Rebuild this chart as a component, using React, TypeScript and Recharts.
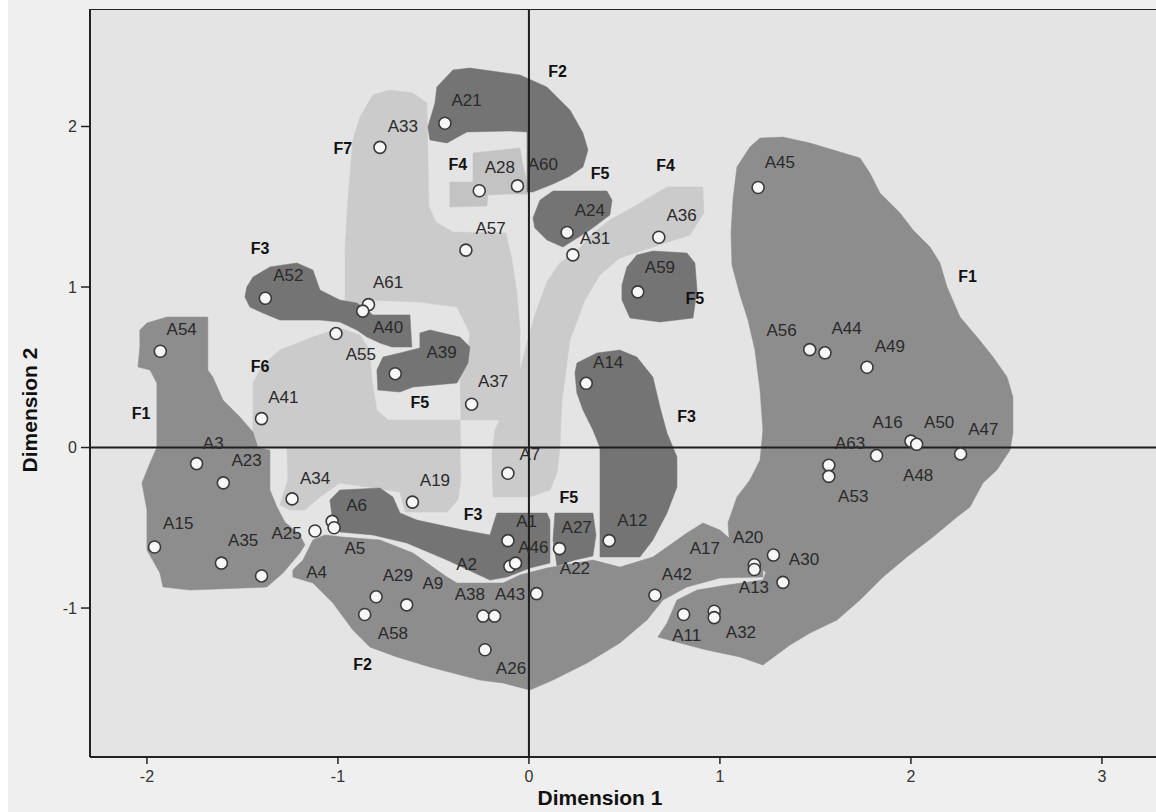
import React from 'react';
import { ScatterChart, Scatter, XAxis, YAxis, CartesianGrid } from 'recharts';

type P = [number, number];

const X_DOMAIN: [number, number] = [-2.298, 3.304];
const Y_DOMAIN: [number, number] = [-1.928, 2.732];
const X_TICKS = [-2, -1, 0, 1, 2, 3];
const Y_TICKS = [-1, 0, 1, 2];

const OBJECT_POINTS = [
  { id: 'A21', x: -0.44, y: 2.02 }, { id: 'A33', x: -0.78, y: 1.87 }, { id: 'A28', x: -0.26, y: 1.6 },
  { id: 'A60', x: -0.06, y: 1.63 }, { id: 'A57', x: -0.33, y: 1.23 }, { id: 'A24', x: 0.2, y: 1.34 },
  { id: 'A31', x: 0.23, y: 1.2 }, { id: 'A36', x: 0.68, y: 1.31 }, { id: 'A45', x: 1.2, y: 1.62 },
  { id: 'A59', x: 0.57, y: 0.97 }, { id: 'A52', x: -1.38, y: 0.93 }, { id: 'A61', x: -0.84, y: 0.89 },
  { id: 'A40', x: -0.87, y: 0.85 }, { id: 'A55', x: -1.01, y: 0.71 }, { id: 'A54', x: -1.93, y: 0.6 },
  { id: 'A39', x: -0.7, y: 0.46 }, { id: 'A37', x: -0.3, y: 0.27 }, { id: 'A41', x: -1.4, y: 0.18 },
  { id: 'A14', x: 0.3, y: 0.4 }, { id: 'A56', x: 1.47, y: 0.61 }, { id: 'A44', x: 1.55, y: 0.59 },
  { id: 'A49', x: 1.77, y: 0.5 }, { id: 'A16', x: 2.0, y: 0.04 }, { id: 'A50', x: 2.03, y: 0.02 },
  { id: 'A47', x: 2.26, y: -0.04 }, { id: 'A48', x: 1.82, y: -0.05 }, { id: 'A63', x: 1.57, y: -0.11 },
  { id: 'A53', x: 1.57, y: -0.18 }, { id: 'A3', x: -1.74, y: -0.1 }, { id: 'A23', x: -1.6, y: -0.22 },
  { id: 'A34', x: -1.24, y: -0.32 }, { id: 'A19', x: -0.61, y: -0.34 }, { id: 'A7', x: -0.11, y: -0.16 },
  { id: 'A15', x: -1.96, y: -0.62 }, { id: 'A35', x: -1.61, y: -0.72 }, { id: 'A4', x: -1.4, y: -0.8 },
  { id: 'A25', x: -1.12, y: -0.52 }, { id: 'A6', x: -1.03, y: -0.46 }, { id: 'A5', x: -1.02, y: -0.5 },
  { id: 'A29', x: -0.8, y: -0.93 }, { id: 'A58', x: -0.86, y: -1.04 }, { id: 'A9', x: -0.64, y: -0.98 },
  { id: 'A38', x: -0.24, y: -1.05 }, { id: 'A43', x: -0.18, y: -1.05 }, { id: 'A26', x: -0.23, y: -1.26 },
  { id: 'A2', x: -0.1, y: -0.74 }, { id: 'A46', x: -0.07, y: -0.72 }, { id: 'A1', x: -0.11, y: -0.58 },
  { id: 'A27', x: 0.16, y: -0.63 }, { id: 'A22', x: 0.04, y: -0.91 }, { id: 'A12', x: 0.42, y: -0.58 },
  { id: 'A42', x: 0.66, y: -0.92 }, { id: 'A11', x: 0.81, y: -1.04 }, { id: 'A32', x: 0.97, y: -1.02 },
  { id: '', x: 0.97, y: -1.06 }, { id: 'A20', x: 1.18, y: -0.73 }, { id: 'A17', x: 1.18, y: -0.76 },
  { id: 'A30', x: 1.28, y: -0.67 }, { id: 'A13', x: 1.33, y: -0.84 },
];

const POINT_LABELS = [
  { text: 'A21', x: -0.326, y: 2.165 }, { text: 'A33', x: -0.66, y: 2.003 }, { text: 'A28', x: -0.152, y: 1.75 },
  { text: 'A60', x: 0.073, y: 1.766 }, { text: 'A57', x: -0.201, y: 1.366 }, { text: 'A24', x: 0.319, y: 1.48 },
  { text: 'A31', x: 0.346, y: 1.307 }, { text: 'A36', x: 0.799, y: 1.449 }, { text: 'A45', x: 1.314, y: 1.776 },
  { text: 'A59', x: 0.686, y: 1.125 }, { text: 'A52', x: -1.26, y: 1.075 }, { text: 'A61', x: -0.737, y: 1.029 },
  { text: 'A40', x: -0.737, y: 0.753 }, { text: 'A55', x: -0.88, y: 0.581 }, { text: 'A54', x: -1.818, y: 0.736 },
  { text: 'A39', x: -0.457, y: 0.593 }, { text: 'A37', x: -0.187, y: 0.416 }, { text: 'A41', x: -1.286, y: 0.317 },
  { text: 'A14', x: 0.415, y: 0.535 }, { text: 'A56', x: 1.323, y: 0.732 }, { text: 'A44', x: 1.663, y: 0.743 },
  { text: 'A49', x: 1.89, y: 0.632 }, { text: 'A16', x: 1.878, y: 0.161 }, { text: 'A50', x: 2.148, y: 0.161 },
  { text: 'A47', x: 2.379, y: 0.113 }, { text: 'A48', x: 2.038, y: -0.171 }, { text: 'A63', x: 1.681, y: 0.026 },
  { text: 'A53', x: 1.698, y: -0.302 }, { text: 'A3', x: -1.653, y: 0.03 }, { text: 'A23', x: -1.478, y: -0.078 },
  { text: 'A34', x: -1.12, y: -0.192 }, { text: 'A19', x: -0.492, y: -0.202 }, { text: 'A7', x: 0.005, y: -0.04 },
  { text: 'A15', x: -1.836, y: -0.472 }, { text: 'A35', x: -1.496, y: -0.576 }, { text: 'A25', x: -1.269, y: -0.533 },
  { text: 'A6', x: -0.902, y: -0.358 }, { text: 'A5', x: -0.911, y: -0.626 }, { text: 'A4', x: -1.112, y: -0.776 },
  { text: 'A29', x: -0.686, y: -0.794 }, { text: 'A9', x: -0.503, y: -0.842 }, { text: 'A2', x: -0.326, y: -0.729 },
  { text: 'A38', x: -0.309, y: -0.913 }, { text: 'A43', x: -0.099, y: -0.913 }, { text: 'A58', x: -0.712, y: -1.156 },
  { text: 'A26', x: -0.094, y: -1.374 }, { text: 'A1', x: -0.012, y: -0.458 }, { text: 'A46', x: 0.023, y: -0.618 },
  { text: 'A27', x: 0.25, y: -0.493 }, { text: 'A22', x: 0.241, y: -0.753 }, { text: 'A12', x: 0.541, y: -0.452 },
  { text: 'A17', x: 0.921, y: -0.626 }, { text: 'A20', x: 1.148, y: -0.556 }, { text: 'A30', x: 1.44, y: -0.697 },
  { text: 'A13', x: 1.178, y: -0.872 }, { text: 'A42', x: 0.775, y: -0.788 }, { text: 'A11', x: 0.826, y: -1.168 },
  { text: 'A32', x: 1.11, y: -1.148 },
];

const REGION_LABELS = [
  { text: 'F2', x: 0.15, y: 2.346 }, { text: 'F7', x: -0.974, y: 1.866 }, { text: 'F4', x: -0.372, y: 1.766 },
  { text: 'F5', x: 0.372, y: 1.71 }, { text: 'F4', x: 0.716, y: 1.756 }, { text: 'F3', x: -1.408, y: 1.243 },
  { text: 'F1', x: 2.297, y: 1.064 }, { text: 'F5', x: 0.869, y: 0.931 }, { text: 'F6', x: -1.408, y: 0.508 },
  { text: 'F5', x: -0.571, y: 0.279 }, { text: 'F1', x: -2.031, y: 0.213 }, { text: 'F3', x: 0.826, y: 0.192 },
  { text: 'F5', x: 0.209, y: -0.31 }, { text: 'F3', x: -0.292, y: -0.414 }, { text: 'F2', x: -0.871, y: -1.349 },
];

// Region outlines (data coordinates)
const LIGHT_F7: P[] = [
  [-0.937, 1.698], [-0.922, 1.916], [-0.885, 2.059], [-0.817, 2.196], [-0.728, 2.227], [-0.607, 2.209],
  [-0.534, 2.146], [-0.524, 1.505], [-0.487, 1.405], [-0.398, 1.343], [-0.12, 1.336], [-0.089, 1.168],
  [-0.063, 0.963], [-0.047, 0.732], [-0.047, 0.296], [-0.073, 0.171], [-0.356, 0.171], [-0.361, 0.439],
  [-0.325, 0.545], [-0.309, 0.713], [-0.377, 0.875], [-0.571, 0.906], [-0.859, 0.919], [-0.911, 0.857],
  [-0.963, 0.919], [-0.963, 1.23], [-0.948, 1.542],
];
const LIGHT_F6: P[] = [
  [-1.445, 0], [-1.445, 0.402], [-1.398, 0.508], [-1.304, 0.607], [-1.131, 0.688], [-0.99, 0.745],
  [-0.885, 0.701], [-0.833, 0.607], [-0.822, 0.421], [-0.796, 0.234], [-0.738, 0.171], [-0.361, 0.171],
  [-0.356, 0],
];
const LIGHT_BAND: P[] = [
  [-1.267, 0], [-0.361, 0], [-0.356, -0.202], [-0.372, -0.327], [-0.429, -0.402], [-0.649, -0.402],
  [-0.675, -0.277], [-0.99, -0.221], [-1.094, -0.308], [-1.173, -0.389], [-1.251, -0.389], [-1.304, -0.358],
  [-1.262, -0.202],
];
const LIGHT_ARM: P[] = [
  [0.723, 1.623], [0.911, 1.623], [0.916, 1.461], [0.843, 1.324], [0.634, 1.243], [0.476, 1.181],
  [0.372, 1.075], [0.293, 0.919], [0.215, 0.67], [0.173, 0.296], [0.162, 0], [0.147, -0.159],
  [0.11, -0.265], [0.005, -0.308], [-0.188, -0.308], [-0.194, -0.034], [-0.178, 0.109], [-0.063, 0.402],
  [-0.01, 0.651], [0.031, 0.826], [0.094, 1.031], [0.162, 1.15], [0.257, 1.23], [0.335, 1.336],
  [0.424, 1.417], [0.545, 1.498],
];
const LIGHT_F4: P[] = [
  [-0.414, 1.654], [-0.293, 1.654], [-0.293, 1.835], [-0.047, 1.866], [-0.037, 1.791], [-0.01, 1.648],
  [-0.005, 1.579], [-0.115, 1.579], [-0.215, 1.573], [-0.22, 1.505], [-0.414, 1.498],
];
const MID_F1_RIGHT: P[] = [
  [1.157, 1.872], [1.21, 1.928], [1.33, 1.934], [1.471, 1.897], [1.733, 1.804], [1.785, 1.71],
  [1.838, 1.586], [1.943, 1.461], [2.011, 1.355], [2.1, 1.249], [2.152, 1.15], [2.189, 1.0],
  [2.257, 0.813], [2.346, 0.688], [2.43, 0.564], [2.503, 0.439], [2.534, 0.315], [2.534, 0.09],
  [2.519, -0.016], [2.45, -0.14], [2.377, -0.221], [2.309, -0.371], [2.241, -0.433], [2.115, -0.558],
  [1.979, -0.682], [1.854, -0.807], [1.733, -0.95], [1.613, -1.075], [1.471, -1.156], [1.367, -1.23],
  [1.225, -1.355], [1.105, -1.305], [0.932, -1.262], [0.791, -1.218], [0.675, -1.181], [0.723, -1.093],
  [0.775, -0.95], [0.88, -0.888], [1.037, -0.857], [1.225, -0.825], [1.241, -0.776], [1.131, -0.701],
  [1.052, -0.626], [1.042, -0.47], [1.089, -0.308], [1.157, -0.202], [1.21, -0.078], [1.225, 0.109],
  [1.21, 0.358], [1.183, 0.607], [1.147, 0.794], [1.105, 0.95], [1.063, 1.137], [1.058, 1.336],
  [1.068, 1.542], [1.089, 1.748],
];
const MID_F2_BOTTOM: P[] = [
  [-1.236, -0.807], [-1.236, -0.763], [-1.183, -0.701], [-1.131, -0.576], [-1.068, -0.545], [-0.974, -0.558],
  [-0.78, -0.576], [-0.607, -0.657], [-0.429, -0.807], [-0.377, -0.844], [-0.136, -0.844], [-0.047, -0.794],
  [0.094, -0.751], [0.335, -0.701], [0.476, -0.745], [0.649, -0.682], [0.827, -0.533], [0.911, -0.47],
  [1.0, -0.514], [1.12, -0.639], [1.225, -0.745], [1.225, -0.807], [1.0, -0.813], [0.827, -0.869],
  [0.702, -0.95], [0.618, -1.075], [0.476, -1.218], [0.304, -1.343], [0.126, -1.449], [0.005, -1.511],
  [-0.136, -1.467], [-0.257, -1.449], [-0.518, -1.368], [-0.691, -1.305], [-0.833, -1.243], [-0.922, -1.137],
  [-1.026, -0.969], [-1.131, -0.844],
];
const MID_F1_LEFT: P[] = [
  [-2.037, 0.732], [-2.0, 0.776], [-1.895, 0.813], [-1.681, 0.813], [-1.681, 0.483], [-1.655, 0.439],
  [-1.602, 0.296], [-1.513, 0.19], [-1.445, 0.097], [-1.419, 0], [-1.356, -0.016], [-1.356, -0.265],
  [-1.319, -0.371], [-1.278, -0.464], [-1.199, -0.545], [-1.173, -0.607], [-1.199, -0.657], [-1.288, -0.782],
  [-1.372, -0.869], [-1.775, -0.888], [-1.916, -0.869], [-1.932, -0.782], [-2.0, -0.639], [-2.0, -0.389],
  [-2.026, -0.221], [-1.984, -0.097], [-1.948, 0], [-1.948, 0.402], [-1.984, 0.483], [-2.047, 0.502],
  [-2.037, 0.626],
];
const DARK_F2_TOP: P[] = [
  [-0.482, 2.246], [-0.398, 2.352], [-0.309, 2.364], [-0.047, 2.321], [0.094, 2.246], [0.215, 2.103],
  [0.283, 1.959], [0.309, 1.853], [0.283, 1.748], [0.215, 1.691], [0.126, 1.642], [0.021, 1.592],
  [-0.01, 1.592], [-0.01, 1.966], [-0.099, 1.972], [-0.325, 1.966], [-0.429, 1.897], [-0.518, 1.916],
  [-0.529, 1.997], [-0.492, 2.146],
];
const DARK_F5_A24: P[] = [
  [0.021, 1.43], [0.058, 1.542], [0.126, 1.598], [0.408, 1.598], [0.435, 1.542], [0.424, 1.449],
  [0.319, 1.355], [0.178, 1.249], [0.094, 1.293], [0.031, 1.368],
];
const DARK_F5_A59: P[] = [
  [0.487, 1.012], [0.513, 1.125], [0.565, 1.199], [0.649, 1.224], [0.827, 1.212], [0.869, 1.15],
  [0.88, 0.981], [0.859, 0.807], [0.686, 0.782], [0.529, 0.807], [0.487, 0.919],
];
const DARK_F5_A39: P[] = [
  [-0.571, 0.713], [-0.518, 0.732], [-0.361, 0.688], [-0.309, 0.626], [-0.319, 0.526], [-0.377, 0.402],
  [-0.607, 0.377], [-0.675, 0.346], [-0.791, 0.358], [-0.796, 0.483], [-0.764, 0.564], [-0.675, 0.589],
  [-0.571, 0.62],
];
const DARK_F3_A52: P[] = [
  [-1.477, 1.0], [-1.445, 1.062], [-1.356, 1.125], [-1.215, 1.15], [-1.131, 1.106], [-1.094, 0.981],
  [-0.99, 0.919], [-0.901, 0.9], [-0.848, 0.857], [-0.817, 0.826], [-0.623, 0.826], [-0.613, 0.626],
  [-0.717, 0.626], [-0.78, 0.651], [-0.848, 0.688], [-0.901, 0.732], [-0.99, 0.782], [-1.094, 0.794],
  [-1.304, 0.794], [-1.393, 0.838], [-1.461, 0.875], [-1.487, 0.938],
];
const DARK_F3_A14: P[] = [
  [0.251, 0.526], [0.356, 0.589], [0.476, 0.607], [0.565, 0.564], [0.649, 0.439], [0.686, 0.252],
  [0.723, 0.09], [0.775, -0.059], [0.775, -0.246], [0.723, -0.408], [0.649, -0.576], [0.581, -0.682],
  [0.372, -0.682], [0.372, 0], [0.335, 0.109], [0.283, 0.234], [0.251, 0.34], [0.241, 0.464],
];
const DARK_F3_A2: P[] = [
  [-1.042, -0.327], [-0.99, -0.265], [-0.78, -0.252], [-0.712, -0.308], [-0.675, -0.408], [-0.586, -0.452],
  [-0.346, -0.514], [-0.204, -0.545], [-0.168, -0.408], [0.094, -0.408], [0.11, -0.452], [0.11, -0.72],
  [0.005, -0.751], [-0.115, -0.807], [-0.204, -0.826], [-0.429, -0.701], [-0.639, -0.595], [-0.817, -0.545],
  [-0.99, -0.526], [-1.026, -0.47],
];
const DARK_F5_A27: P[] = [
  [0.136, -0.408], [0.335, -0.408], [0.351, -0.545], [0.335, -0.676], [0.241, -0.701], [0.147, -0.738],
  [0.126, -0.576],
];

const LIGHT = '#cbcbcb';
const LIGHT2 = '#c3c3c3';
const MID = '#8d8d8d';
const DARK = '#747474';
const FONT = '"Liberation Sans", Arial, sans-serif';

const REGIONS: { key: string; pts: P[]; color: string }[] = [
  { key: 'f7', pts: LIGHT_F7, color: LIGHT },
  { key: 'f6', pts: LIGHT_F6, color: LIGHT },
  { key: 'band', pts: LIGHT_BAND, color: LIGHT },
  { key: 'arm', pts: LIGHT_ARM, color: LIGHT },
  { key: 'f4', pts: LIGHT_F4, color: LIGHT2 },
  { key: 'f1r', pts: MID_F1_RIGHT, color: MID },
  { key: 'f2b', pts: MID_F2_BOTTOM, color: MID },
  { key: 'f1l', pts: MID_F1_LEFT, color: MID },
  { key: 'f2t', pts: DARK_F2_TOP, color: DARK },
  { key: 'a24', pts: DARK_F5_A24, color: DARK },
  { key: 'a59', pts: DARK_F5_A59, color: DARK },
  { key: 'a39', pts: DARK_F5_A39, color: DARK },
  { key: 'a52', pts: DARK_F3_A52, color: DARK },
  { key: 'a14', pts: DARK_F3_A14, color: DARK },
  { key: 'a2', pts: DARK_F3_A2, color: DARK },
  { key: 'a27', pts: DARK_F5_A27, color: DARK },
];

const toXY = (pts: P[]) => pts.map(([x, y]) => ({ x, y }));
const noShape = () => <g />;

const circleShape = (p: any) => (
  <circle cx={p.cx} cy={p.cy} r={6} fill="#f7f7f7" stroke="#3a3a3a" strokeWidth={1.6} />
);
const textShape = (p: any) => (
  <text x={p.cx} y={p.cy} dy="0.35em" textAnchor="middle" fontSize={17} fill="#2a2a2a" fontFamily={FONT}>
    {p.payload.text}
  </text>
);
const regionTextShape = (p: any) => (
  <text x={p.cx} y={p.cy} dy="0.35em" textAnchor="middle" fontSize={16} fontWeight={700} fill="#111" fontFamily={FONT}>
    {p.payload.text}
  </text>
);

const xTitle = (props: any) => {
  const vb = props.viewBox || { x: 82, y: 757, width: 1070, height: 55 };
  return (
    <text x={vb.x + vb.width / 2 - 25} y={vb.y + vb.height - 7} textAnchor="middle" fontSize={21} fontWeight={700} fill="#111" fontFamily={FONT}>
      Dimension 1
    </text>
  );
};
const yTitle = (props: any) => {
  const vb = props.viewBox || { x: 0, y: 9, width: 82, height: 748 };
  const cx = vb.x + 22;
  const cy = vb.y + vb.height / 2 + 27;
  return (
    <text x={cx} y={cy} dy="0.35em" transform={`rotate(-90, ${cx}, ${cy})`} textAnchor="middle" fontSize={21} fontWeight={700} fill="#111" fontFamily={FONT}>
      Dimension 2
    </text>
  );
};

export default function App() {
  const vLine = [{ x: 0, y: Y_DOMAIN[0] }, { x: 0, y: Y_DOMAIN[1] }];
  const hLine = [{ x: X_DOMAIN[0], y: 0 }, { x: X_DOMAIN[1], y: 0 }];
  const topLine = [{ x: X_DOMAIN[0], y: Y_DOMAIN[1] }, { x: X_DOMAIN[1], y: Y_DOMAIN[1] }];
  return (
    <div style={{ position: 'fixed', left: 8, top: 0, width: 1148, height: 812, overflow: 'hidden', background: '#efefef' }}>
      <ScatterChart width={1160} height={812} margin={{ top: 9, right: 8, bottom: 0, left: 0 }}>
        <CartesianGrid fill="#e4e4e4" horizontal={false} vertical={false} />
        <XAxis
          type="number"
          dataKey="x"
          domain={X_DOMAIN}
          ticks={X_TICKS}
          allowDataOverflow
          height={55}
          tickSize={7}
          tickMargin={7}
          axisLine={{ stroke: '#222', strokeWidth: 2 }}
          tickLine={{ stroke: '#222', strokeWidth: 1.5 }}
          tick={{ fontSize: 16, fill: '#333', fontFamily: FONT }}
          label={xTitle}
        />
        <YAxis
          type="number"
          dataKey="y"
          domain={Y_DOMAIN}
          ticks={Y_TICKS}
          allowDataOverflow
          width={82}
          tickSize={9}
          tickMargin={4}
          axisLine={{ stroke: '#222', strokeWidth: 2 }}
          tickLine={{ stroke: '#222', strokeWidth: 1.5 }}
          tick={{ fontSize: 16, fill: '#333', fontFamily: FONT }}
          label={yTitle}
        />
        {REGIONS.map((r) => (
          <Scatter
            key={r.key}
            data={toXY(r.pts)}
            fill={r.color}
            line={{ fill: r.color, stroke: r.color, strokeWidth: 0.5 }}
            lineJointType="linearClosed"
            shape={noShape}
            isAnimationActive={false}
          />
        ))}
        <Scatter data={vLine} line={{ stroke: '#1e1e1e', strokeWidth: 2 }} shape={noShape} isAnimationActive={false} />
        <Scatter data={hLine} line={{ stroke: '#1e1e1e', strokeWidth: 2 }} shape={noShape} isAnimationActive={false} />
        <Scatter data={topLine} line={{ stroke: '#222', strokeWidth: 2 }} shape={noShape} isAnimationActive={false} />
        <Scatter data={OBJECT_POINTS} shape={circleShape} isAnimationActive={false} />
        <Scatter data={POINT_LABELS} shape={textShape} isAnimationActive={false} />
        <Scatter data={REGION_LABELS} shape={regionTextShape} isAnimationActive={false} />
      </ScatterChart>
    </div>
  );
}
